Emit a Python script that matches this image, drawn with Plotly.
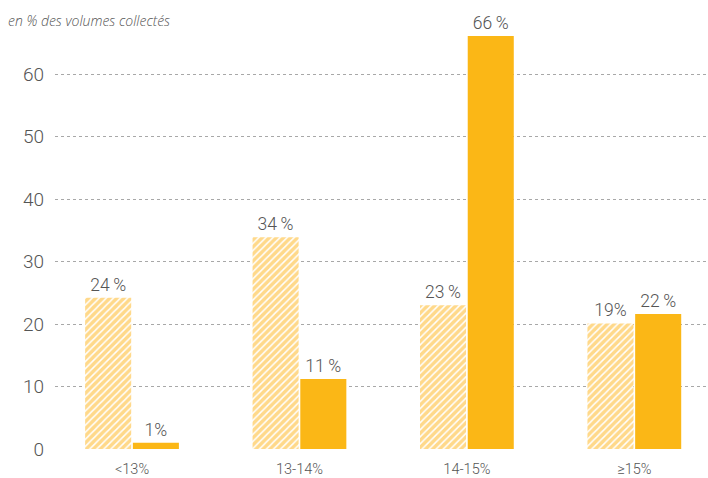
import plotly.graph_objects as go

categories = ["<13%", "13-14%", "14-15%", "≥15%"]
series_a = [24.2, 33.9, 23.0, 20.1]
series_a_labels = ["24\u2009%", "34\u2009%", "23\u2009%", "19%"]
series_b = [1.0, 11.2, 66.1, 21.6]
series_b_labels = ["1%", "11\u2009%", "66\u2009%", "22\u2009%"]
y_ticks = [0, 10, 20, 30, 40, 50, 60]

x = list(range(len(categories)))
txtfont = dict(family="Roboto", size=17.5, color="#555555", weight=300)

fig = go.Figure()
fig.add_trace(go.Bar(
    x=x, y=series_a, text=series_a_labels, textposition="outside",
    textfont=txtfont, cliponaxis=False,
    marker=dict(color="#FFD98A", line=dict(width=0),
                pattern=dict(shape="/", fgcolor="#FFFFFF", bgcolor="#FFD98A",
                             size=5, solidity=0.3, fillmode="replace")),
    showlegend=False,
))
fig.add_trace(go.Bar(
    x=x, y=series_b, text=series_b_labels, textposition="outside",
    textfont=txtfont, cliponaxis=False,
    marker=dict(color="#FBB716", line=dict(width=0)),
    showlegend=False,
))

fig.update_layout(
    width=708, height=478,
    margin=dict(l=55, r=0, t=10, b=29),
    paper_bgcolor="white", plot_bgcolor="white",
    barmode="group", bargap=0.43, bargroupgap=0.035,
    annotations=[dict(text="<i>en % des volumes collectés</i>", x=0, y=1,
                      xref="paper", yref="paper", xshift=-49, yshift=1,
                      xanchor="left", yanchor="top", showarrow=False,
                      font=dict(family="Open Sans", size=14, color="#555555",
                                weight=300))],
)
fig.update_xaxes(
    tickmode="array", tickvals=x, ticktext=categories,
    range=[-0.46, 3.44], showgrid=False, zeroline=False, showline=False,
    ticks="", ticklabelstandoff=9,
    tickfont=dict(family="Roboto", size=14.5, color="#555555", weight=300),
)
fig.update_yaxes(
    tickmode="array", tickvals=y_ticks, range=[0, 70.24],
    showgrid=True, gridcolor="#A8A8A8", griddash="dot", gridwidth=1,
    zeroline=False, showline=False, ticks="", ticklabelstandoff=10,
    tickfont=dict(family="Roboto", size=19, color="#555555", weight=300),
)
fig.write_html("out.html")
